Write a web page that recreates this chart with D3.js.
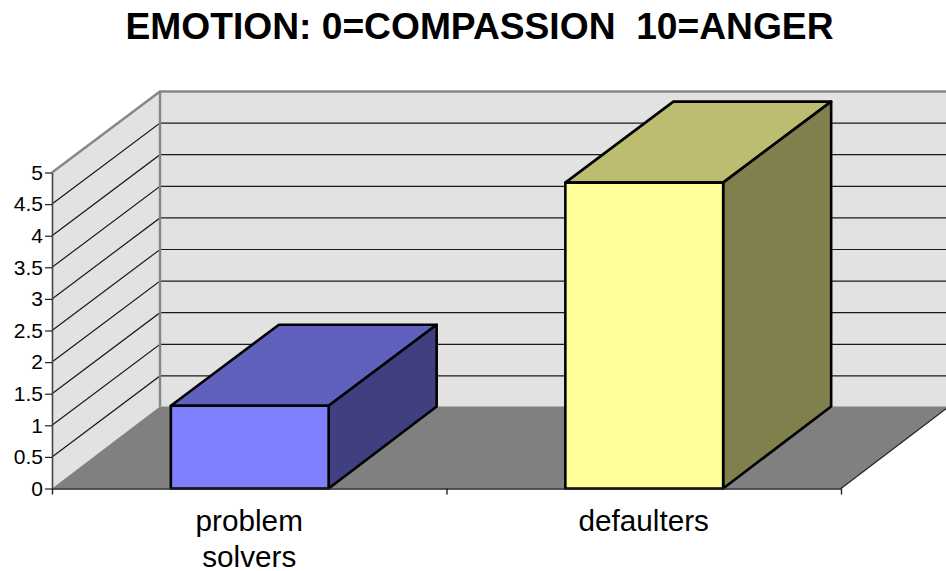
<!DOCTYPE html>
<html><head><meta charset="utf-8">
<script src="https://cdn.jsdelivr.net/npm/d3@7/dist/d3.min.js"></script>
<style>html,body{margin:0;padding:0;background:#fff}svg{display:block}text{font-family:"Liberation Sans",Arial,sans-serif;fill:#000}</style>
</head><body><div id="c"></div>
<script>
const categories = ["problem solvers", "defaulters"];
const categoryLines = [["problem", "solvers"], ["defaulters"]];
const values = [1.31, 4.84];
const yTicks = [0,0.5,1,1.5,2,2.5,3,3.5,4,4.5,5];
const frontColors = ["#8080ff", "#ffff99"];
const topColors = ["#6060bd", "#bdbd72"];
const sideColors = ["#404080", "#80804d"];
const titleText = "EMOTION: 0=COMPASSION  10=ANGER";

const W=946,H=571;
const x0=52,x1=841,y0=488.5,y5=172.5,dx=108,dy=-81;
const svg=d3.select("#c").append("svg").attr("width",W).attr("height",H);
const y=d3.scaleLinear().domain([0,5]).range([y0,y5]);
const x=d3.scaleBand().domain(categories).range([x0,x1]).paddingInner(0.6).paddingOuter(0.3);
const pts=a=>a.map(p=>p.join(",")).join(" ");

// walls and floor
svg.append("polygon").attr("points",pts([[x0+dx,y5+dy],[W+10,y5+dy],[W+10,y0+dy],[x0+dx,y0+dy]])).attr("fill","#e2e2e2");
svg.append("polygon").attr("points",pts([[x0,y0],[x0,y5],[x0+dx,y5+dy],[x0+dx,y0+dy]])).attr("fill","#e2e2e2");
svg.append("polygon").attr("points",pts([[x0,y0],[x1,y0],[x1+dx,y0+dy-1],[x0+dx,y0+dy-1]])).attr("fill","#808080");
// gridlines
const grid=svg.append("g");
yTicks.filter(t=>t>0&&t<5).forEach(t=>{
  grid.append("polyline").attr("points",pts([[x0,y(t)],[x0+dx,y(t)+dy],[W+10,y(t)+dy]]))
    .attr("fill","none").attr("stroke","#1a1a1a").attr("stroke-width",1.2);
});
// wall outline
svg.append("polyline").attr("points",pts([[x0,y5],[x0+dx,y5+dy],[W+10,y5+dy]])).attr("fill","none").attr("stroke","#868686").attr("stroke-width",2.4);
svg.append("line").attr("x1",x0+dx).attr("x2",x0+dx).attr("y1",y5+dy).attr("y2",y0+dy-1).attr("stroke","#868686").attr("stroke-width",2.4);
svg.append("line").attr("x1",x1).attr("x2",x1+dx).attr("y1",y0).attr("y2",y0+dy-1).attr("stroke","#222").attr("stroke-width",1.2);

// bars
const bars=svg.append("g").selectAll("g").data(categories).join("g");
bars.each(function(c,i){
  const g=d3.select(this),l=x(c)+0.5,r=l+x.bandwidth(),t=y(values[i]);
  const common=s=>s.attr("stroke","#000").attr("stroke-width",2.6).attr("stroke-linejoin","round");
  common(g.append("polygon").attr("points",pts([[l,t],[r,t],[r+dx,t+dy],[l+dx,t+dy]])).attr("fill",topColors[i]));
  common(g.append("polygon").attr("points",pts([[r,t],[r+dx,t+dy],[r+dx,y0+dy-1],[r,y0]])).attr("fill",sideColors[i]));
  common(g.append("rect").attr("x",l).attr("y",t).attr("width",x.bandwidth()).attr("height",y0-t).attr("fill",frontColors[i]));
});

// axes
const yAxis=svg.append("g").attr("transform",`translate(${x0},0)`)
  .call(d3.axisLeft(y).tickValues(yTicks).tickFormat(d3.format("~g")).tickSize(7).tickPadding(2).tickSizeOuter(0));
yAxis.selectAll("path,line").attr("stroke","#222").attr("stroke-width",1.2);
yAxis.select("path").attr("stroke","#444").attr("stroke-width",1.6);
yAxis.selectAll("text").attr("font-size",21).attr("font-family",null);

const xAxis=svg.append("g").attr("transform",`translate(0,${y0})`)
  .call(d3.axisBottom(d3.scaleLinear().domain([0,2]).range([x0,x1])).tickValues([0,1,2]).tickFormat("").tickSize(6).tickSizeOuter(0));
xAxis.selectAll("path,line").attr("stroke","#222").attr("stroke-width",1.4);

// category labels
categories.forEach((c,i)=>{
  const t=svg.append("text").attr("text-anchor","middle").attr("font-size",29.7);
  categoryLines[i].forEach((s,j)=>t.append("tspan").attr("x",x(c)+x.bandwidth()/2).attr("y",531+j*36).text(s));
});

svg.append("text").attr("x",479.5).attr("y",39).attr("text-anchor","middle").attr("font-size",37.2).attr("font-weight","bold").attr("xml:space","preserve").style("white-space","pre").text(titleText);
</script></body></html>
